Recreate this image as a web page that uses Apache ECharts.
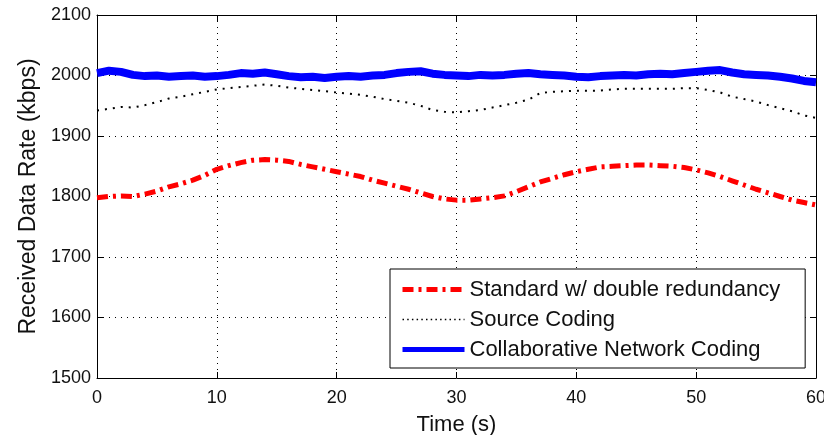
<!DOCTYPE html>
<html>
<head>
<meta charset="utf-8">
<script src="https://cdn.jsdelivr.net/npm/echarts@6/dist/echarts.min.js"></script>
<style>
  html, body { margin: 0; padding: 0; background: #fff; }
  #chart { width: 824px; height: 435px; }
</style>
</head>
<body>
<div id="chart"></div>
<script>
// Time axis, one sample per second
const time = [
  0, 1, 2, 3, 4, 5, 6, 7, 8, 9,
  10, 11, 12, 13, 14, 15, 16, 17, 18, 19,
  20, 21, 22, 23, 24, 25, 26, 27, 28, 29,
  30, 31, 32, 33, 34, 35, 36, 37, 38, 39,
  40, 41, 42, 43, 44, 45, 46, 47, 48, 49,
  50, 51, 52, 53, 54, 55, 56, 57, 58, 59, 60
];

// Received data rate (kbps) for each scheme
const standardRate = [
  1798, 1800, 1801, 1800, 1804, 1809, 1816, 1821, 1827, 1835,
  1845, 1851, 1856, 1860, 1861, 1860, 1858, 1853, 1849, 1845,
  1841, 1837, 1833, 1827, 1822, 1817, 1812, 1806, 1800, 1796,
  1794, 1794, 1796, 1798, 1801, 1808, 1816, 1824, 1830, 1836,
  1841, 1845, 1849, 1850, 1851, 1852, 1852, 1851, 1850, 1848,
  1844, 1839, 1833, 1826, 1819, 1812, 1806, 1800, 1794, 1790, 1786
];

const sourceRate = [
  1942, 1945, 1948, 1947, 1951, 1956, 1962, 1965, 1969, 1973,
  1977, 1979, 1981, 1983, 1985, 1983, 1980, 1978, 1976, 1974,
  1972, 1970, 1968, 1965, 1961, 1958, 1955, 1950, 1943, 1940,
  1939, 1941, 1943, 1947, 1951, 1955, 1960, 1971, 1973, 1974,
  1975, 1975, 1975, 1977, 1978, 1978, 1978, 1978, 1978, 1979,
  1979, 1976, 1972, 1965, 1961, 1957, 1951, 1946, 1941, 1934, 1930
];

const collabRate = [
  2004, 2008, 2006, 2001, 1999, 2000, 1998, 1999, 2000, 1998,
  1999, 2001, 2004, 2003, 2005, 2002, 1999, 1997, 1998, 1996,
  1998, 1999, 1998, 2000, 2001, 2004, 2006, 2007, 2003, 2001,
  2000, 1999, 2001, 2000, 2001, 2003, 2004, 2002, 2001, 2000,
  1998, 1997, 1999, 2000, 2001, 2000, 2002, 2003, 2002, 2004,
  2006, 2008, 2009, 2005, 2002, 2001, 2000, 1998, 1995, 1991, 1989
];

const seriesNames = [
  'Standard w/ double redundancy',
  'Source Coding',
  'Collaborative Network Coding'
];

const xTicks = { min: 0, max: 60, interval: 10 };
const yTicks = { min: 1500, max: 2100, interval: 100 };

const FONT = '"Liberation Sans", Arial, Helvetica, sans-serif';

const pairs = (ys) => time.map((t, i) => [t, ys[i]]);

const redStyle = { color: '#ff0000', width: 5, type: [11, 5, 3, 5] };
const dotStyle = { color: '#000000', width: 2, type: [2, 6] };
const blueStyle = { color: '#0000ff', width: 8, type: 'solid' };

// legend keys show only the line sample, no marker
const noMarker = { color: 'rgba(0,0,0,0)', borderColor: 'rgba(0,0,0,0)', borderWidth: 0, opacity: 0 };

const chart = echarts.init(document.getElementById('chart'), null, { renderer: 'canvas' });

const axisBase = {
  axisLine: { show: true, onZero: false, lineStyle: { color: '#000', width: 1 } },
  axisTick: { show: true, inside: true, length: 6, lineStyle: { color: '#000', width: 1 } }
};

chart.setOption({
  animation: false,
  backgroundColor: '#ffffff',
  grid: { left: 97, right: 8, top: 15, bottom: 57, containLabel: false, outerBoundsMode: 'none' },
  legend: {
    orient: 'vertical',
    left: 390,
    top: 269,
    padding: [6, 25, 4, 10],
    itemGap: 1,
    itemWidth: 62,
    itemHeight: 14,
    backgroundColor: '#ffffff',
    borderColor: '#000000',
    borderWidth: 1,
    borderRadius: 0,
    selectedMode: false,
    textStyle: { fontFamily: FONT, fontSize: 22, color: '#111', lineHeight: 29 },
    data: [
      { name: seriesNames[0], lineStyle: redStyle, itemStyle: noMarker },
      { name: seriesNames[1], lineStyle: { color: '#000', width: 1.5, type: [1.5, 3.2] }, itemStyle: noMarker },
      { name: seriesNames[2], lineStyle: { color: '#0000ff', width: 5, type: 'solid' }, itemStyle: noMarker }
    ]
  },
  xAxis: [
    Object.assign({
      type: 'value',
      position: 'bottom',
      min: xTicks.min, max: xTicks.max, interval: xTicks.interval,
      name: 'Time (s)',
      nameLocation: 'middle',
      nameGap: 36,
      nameTextStyle: { fontFamily: FONT, fontSize: 22, color: '#111' },
      axisLabel: { fontFamily: FONT, fontSize: 18, color: '#111', margin: 11, formatter: (v) => String(v) },
      splitLine: { show: true, lineStyle: { color: '#000', width: 1, type: [1, 5] } }
    }, axisBase),
    Object.assign({
      type: 'value',
      position: 'top',
      min: xTicks.min, max: xTicks.max, interval: xTicks.interval,
      axisLabel: { show: false },
      splitLine: { show: false }
    }, axisBase)
  ],
  yAxis: [
    Object.assign({
      type: 'value',
      position: 'left',
      min: yTicks.min, max: yTicks.max, interval: yTicks.interval,
      name: 'Received Data Rate (kbps)',
      nameLocation: 'middle',
      nameGap: 52,
      nameTextStyle: { fontFamily: FONT, fontSize: 23, color: '#111' },
      axisLabel: { fontFamily: FONT, fontSize: 18, color: '#111', margin: 6, formatter: (v) => String(v) },
      splitLine: { show: true, lineStyle: { color: '#000', width: 1, type: [1, 5] } }
    }, axisBase),
    Object.assign({
      type: 'value',
      position: 'right',
      min: yTicks.min, max: yTicks.max, interval: yTicks.interval,
      axisLabel: { show: false },
      splitLine: { show: false }
    }, axisBase)
  ],
  series: [
    {
      name: seriesNames[0],
      type: 'line',
      data: pairs(standardRate),
      showSymbol: false,
      symbol: 'none',
      clip: true,
      lineStyle: redStyle,
      itemStyle: { color: '#ff0000' },
      z: 3
    },
    {
      name: seriesNames[1],
      type: 'line',
      data: pairs(sourceRate),
      showSymbol: false,
      symbol: 'none',
      clip: true,
      lineStyle: dotStyle,
      itemStyle: { color: '#000' },
      z: 3
    },
    {
      name: seriesNames[2],
      type: 'line',
      data: pairs(collabRate),
      showSymbol: false,
      symbol: 'none',
      clip: true,
      lineStyle: blueStyle,
      itemStyle: { color: '#0000ff' },
      z: 3
    }
  ]
});
</script>
</body>
</html>
